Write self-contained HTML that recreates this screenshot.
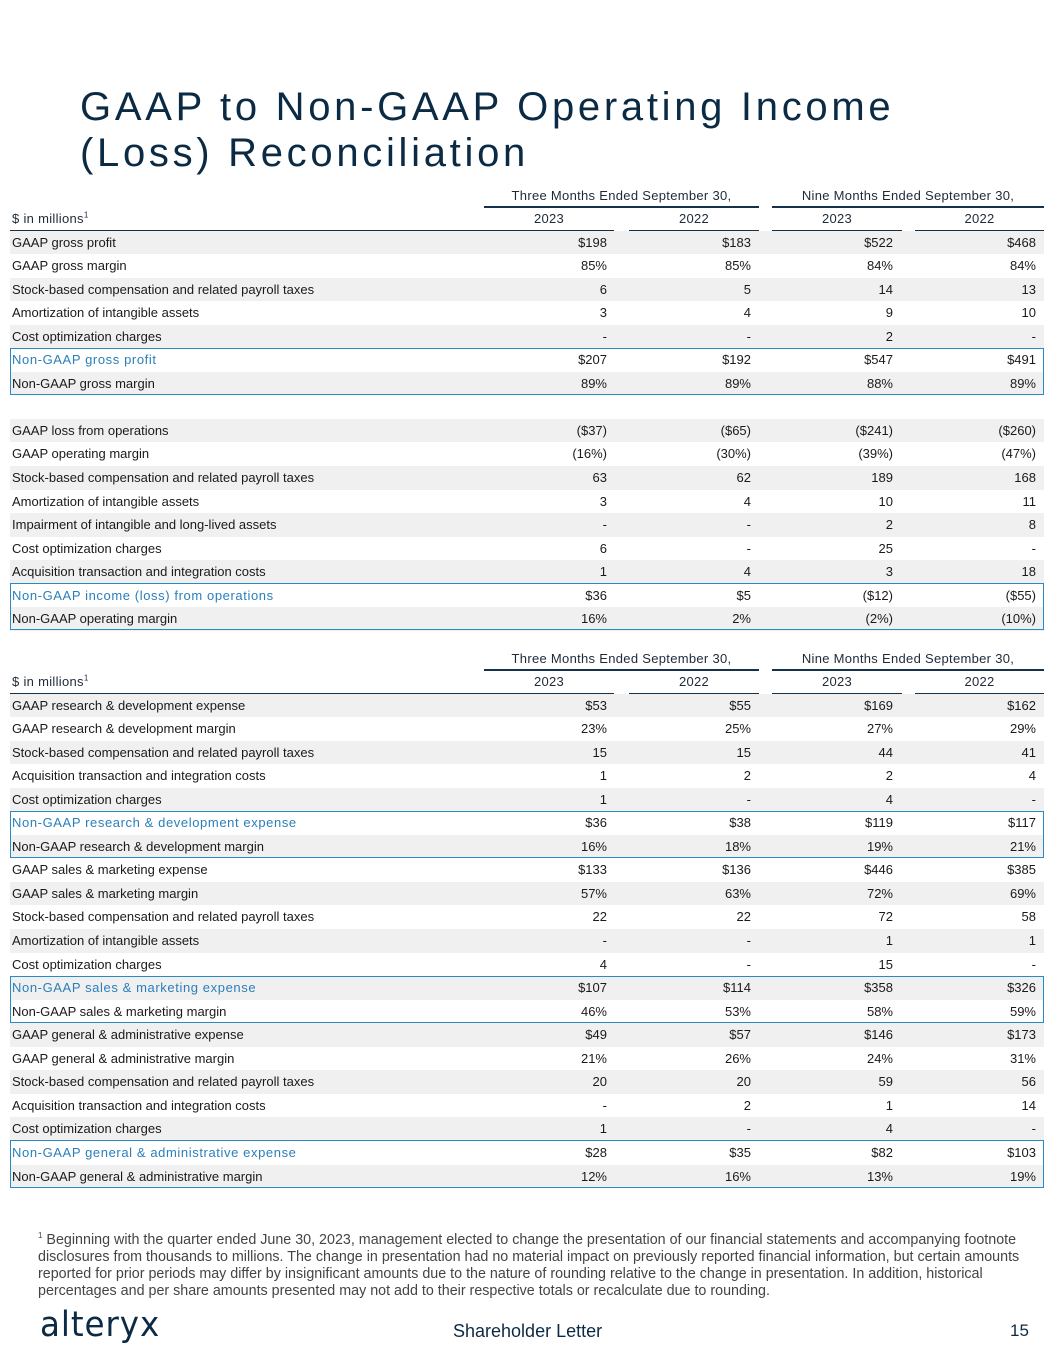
<!DOCTYPE html>
<html><head><meta charset="utf-8">
<style>
body{margin:0;background:#fff;}
#page{position:relative;width:1055px;height:1365px;overflow:hidden;font-family:"Liberation Sans",sans-serif;color:#1a1a1a;}
.t{position:absolute;white-space:nowrap;}
.row{position:absolute;left:10px;width:1034px;height:23.55px;}
.shade{background:#f0f0f0;}
.lbl{position:absolute;left:2px;top:4px;font-size:13px;line-height:15px;}
.v{position:absolute;top:4px;font-size:13px;line-height:15px;text-align:right;width:120px;}
.blue{color:#2a7fba;letter-spacing:0.6px;}
.hl{position:absolute;height:2px;background:#16324a;}
.box{position:absolute;left:10px;width:1032px;border:1.5px solid #2a8ac4;}
.hdr{position:absolute;font-size:13px;line-height:15px;text-align:center;color:#1e2a38;letter-spacing:0.3px;}
.fn{font-size:14.3px;line-height:17px;letter-spacing:0;}
</style></head>
<body><div id="page">
<div class="t" style="left:80px;top:84px;font-size:40px;line-height:46px;color:#0b2a44;letter-spacing:3.7px;">GAAP to Non-GAAP Operating Income<br>(Loss) Reconciliation</div>
<div id="tables"></div>
<div class="t fn" style="left:38px;top:1227px;color:#444;"><sup style="font-size:8px">1</sup> Beginning with the quarter ended June 30, 2023, management elected to change the presentation of our financial statements and accompanying footnote<br>disclosures from thousands to millions. The change in presentation had no material impact on previously reported financial information, but certain amounts<br>reported for prior periods may differ by insignificant amounts due to the nature of rounding relative to the change in presentation. In addition, historical<br>percentages and per share amounts presented may not add to their respective totals or recalculate due to rounding.</div>
<div class="t" style="left:40px;top:1305px;font-size:35px;color:#0b2a44;font-family:'DejaVu Sans',sans-serif;letter-spacing:1px;transform:scaleX(0.93);transform-origin:left;">alteryx</div>
<div class="t" style="left:453px;top:1321px;font-size:18px;color:#0b2a44;">Shareholder Letter</div>
<div class="t" style="left:1010px;top:1321px;font-size:17px;color:#0b2a44;">15</div>
</div>
<script>
const labels1=["GAAP gross profit","GAAP gross margin","Stock-based compensation and related payroll taxes","Amortization of intangible assets","Cost optimization charges","Non-GAAP gross profit","Non-GAAP gross margin","","GAAP loss from operations","GAAP operating margin","Stock-based compensation and related payroll taxes","Amortization of intangible assets","Impairment of intangible and long-lived assets","Cost optimization charges","Acquisition transaction and integration costs","Non-GAAP income (loss) from operations","Non-GAAP operating margin"];
const q23a=["$198","85%","6","3","-","$207","89%","","($37)","(16%)","63","3","-","6","1","$36","16%"];
const q22a=["$183","85%","5","4","-","$192","89%","","($65)","(30%)","62","4","-","-","4","$5","2%"];
const n23a=["$522","84%","14","9","2","$547","88%","","($241)","(39%)","189","10","2","25","3","($12)","(2%)"];
const n22a=["$468","84%","13","10","-","$491","89%","","($260)","(47%)","168","11","8","-","18","($55)","(10%)"];
const labels2=["GAAP research & development expense","GAAP research & development margin","Stock-based compensation and related payroll taxes","Acquisition transaction and integration costs","Cost optimization charges","Non-GAAP research & development expense","Non-GAAP research & development margin","GAAP sales & marketing expense","GAAP sales & marketing margin","Stock-based compensation and related payroll taxes","Amortization of intangible assets","Cost optimization charges","Non-GAAP sales & marketing expense","Non-GAAP sales & marketing margin","GAAP general & administrative expense","GAAP general & administrative margin","Stock-based compensation and related payroll taxes","Acquisition transaction and integration costs","Cost optimization charges","Non-GAAP general & administrative expense","Non-GAAP general & administrative margin"];
const q23b=["$53","23%","15","1","1","$36","16%","$133","57%","22","-","4","$107","46%","$49","21%","20","-","1","$28","12%"];
const q22b=["$55","25%","15","2","-","$38","18%","$136","63%","22","-","-","$114","53%","$57","26%","20","2","-","$35","16%"];
const n23b=["$169","27%","44","2","4","$119","19%","$446","72%","72","1","15","$358","58%","$146","24%","59","1","4","$82","13%"];
const n22b=["$162","29%","41","4","-","$117","21%","$385","69%","58","1","-","$326","59%","$173","31%","56","14","-","$103","19%"];
const years=["2023","2022","2023","2022"];
const groups=["Three Months Ended September 30,","Nine Months Ended September 30,"];
const boxes1=[5,15], boxes2=[5,12,19];

const RH=23.55, rightEdges=[607,751,893,1036];
const colLines=[[484,614],[629,759],[772,902],[915,1044]];
const grpLines=[[484,759],[772,1044]];
const root=document.getElementById('tables');
function add(html){const d=document.createElement('div');d.innerHTML=html;const e=d.firstChild;root.appendChild(e);return e;}
function build(top,labels,cols,boxes,tag){
  groups.forEach((g,i)=>{
    const e=add(`<div class="hdr" style="left:${grpLines[i][0]}px;width:${grpLines[i][1]-grpLines[i][0]}px;top:${top-43}px">${g}</div>`);
    
    
    const l=add(`<div class="hl" style="left:${grpLines[i][0]}px;width:${grpLines[i][1]-grpLines[i][0]}px;top:${top-25}px"></div>`);
    
    
  });
  const u=add(`<div class="t" style="left:12px;top:${top-20}px;font-size:13px;line-height:15px;color:#1e2a38;letter-spacing:0.3px">$ in millions<sup style="font-size:8px;line-height:0">1</sup></div>`);
  
  
  const hl=add(`<div class="hl" style="left:10px;width:474px;top:${top-1}px"></div>`);
  
  
  years.forEach((y,i)=>{
    const e=add(`<div class="hdr" style="left:${colLines[i][0]}px;width:${colLines[i][1]-colLines[i][0]}px;top:${top-20}px">${y}</div>`);
    
    
    const l=add(`<div class="hl" style="left:${colLines[i][0]}px;width:${colLines[i][1]-colLines[i][0]}px;top:${top-1}px"></div>`);
    
    
  });
  labels.forEach((lab,r)=>{
    const y=top+r*RH;
    const row=add(`<div class="row ${r%2==0&&lab?'shade':''}" style="top:${y}px"></div>`);
    
    
    if(!lab) return;
    const isBlue=boxes.includes(r);
    row.innerHTML=`<div class="lbl ${isBlue?'blue':''}">${lab}</div>`;
    cols.forEach((c,ci)=>{
      const v=document.createElement('div');
      v.className='v';
      v.style.left=(rightEdges[ci]-10-120)+'px';
      v.textContent=c[r];
      
      
      row.appendChild(v);
    });
  });
  boxes.forEach(b=>{
    const e=add(`<div class="box" style="top:${top+b*RH-0.5}px;height:${2*RH-2}px"></div>`);
    
    
  });
}
build(230.5,labels1,[q23a,q22a,n23a,n22a],boxes1,'t1');
build(693.5,labels2,[q23b,q22b,n23b,n22b],boxes2,'t2');
</script>
</body></html>
